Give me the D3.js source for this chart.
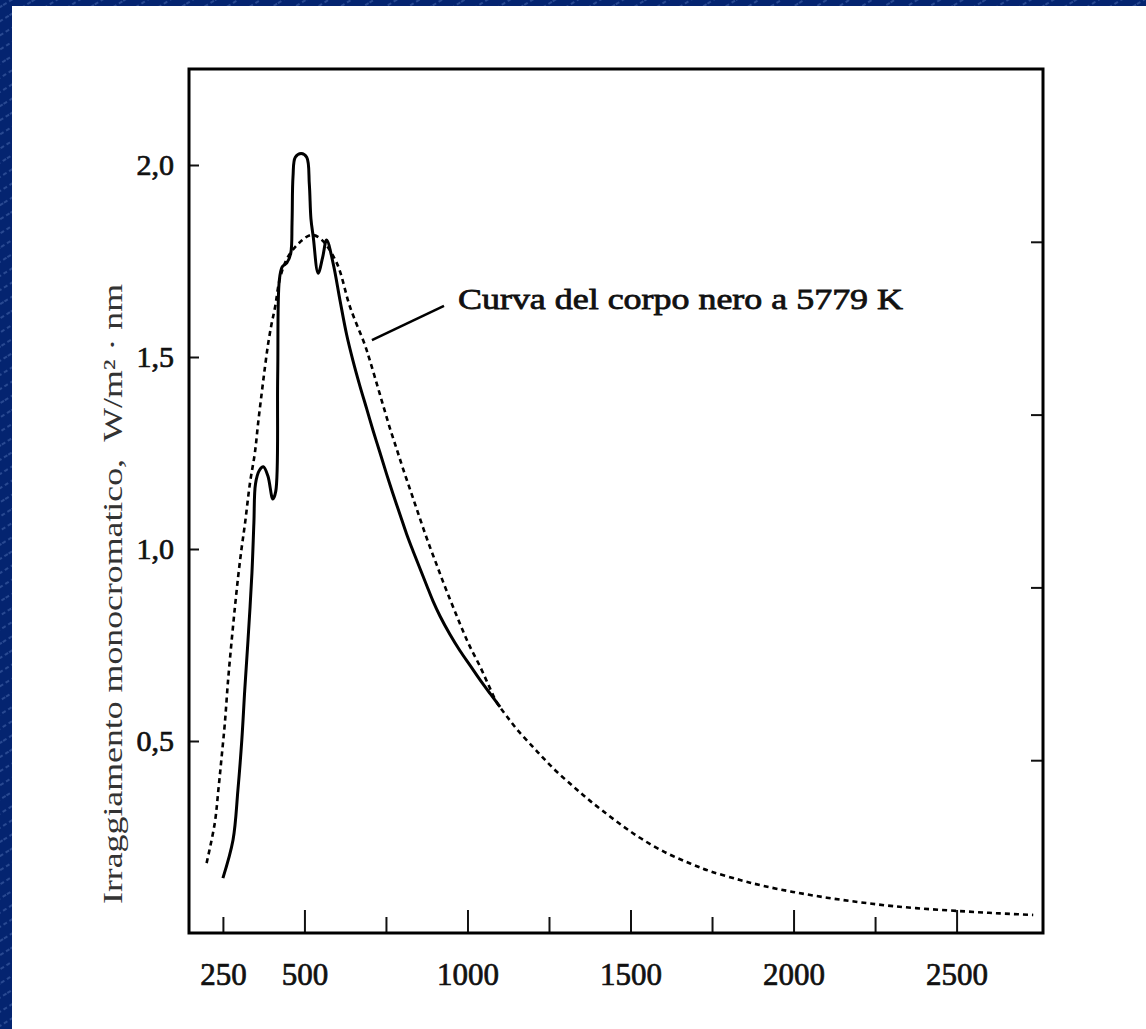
<!DOCTYPE html>
<html><head><meta charset="utf-8">
<script src="https://cdn.jsdelivr.net/npm/d3@7"></script>
<style>html,body{margin:0;padding:0;background:#fff;overflow:hidden} svg{display:block}</style>
</head><body>
<svg id="c" width="1146" height="1029"></svg>
<script>
// ---------- data ----------
const xMinorTicks = [250, 750, 1250, 1750, 2250];
const xMajorTicks = [500, 1000, 1500, 2000, 2500];
const xTickLabels = [250, 500, 1000, 1500, 2000, 2500];
const yTickValues = [0.5, 1.0, 1.5, 2.0];
const yRightTicks = [0.45, 0.9, 1.35, 1.8];

// measured solar spectrum (solid)
const solarWavelength = [250, 281, 296, 308, 317, 327, 339, 345, 350, 362, 374, 388, 403, 412, 418, 423, 432, 446, 458, 462, 465, 472, 490, 507, 515, 520, 527, 542, 556, 568, 588, 609, 629, 649, 670, 691, 710, 732, 752, 771, 793, 813, 833, 854, 875, 894, 916, 946, 977, 1008, 1038, 1069, 1100];
const solarIrradiance = [0.143, 0.242, 0.372, 0.503, 0.633, 0.763, 0.937, 1.068, 1.17, 1.205, 1.214, 1.19, 1.13, 1.15, 1.45, 1.70, 1.735, 1.745, 1.77, 1.85, 1.97, 2.02, 2.03, 2.02, 1.95, 1.86, 1.813, 1.718, 1.76, 1.805, 1.744, 1.648, 1.56, 1.49, 1.425, 1.365, 1.31, 1.25, 1.195, 1.145, 1.09, 1.04, 0.995, 0.95, 0.905, 0.865, 0.825, 0.778, 0.735, 0.697, 0.66, 0.624, 0.589];

// blackbody at 5779 K (dashed)
const blackbodyWavelength = [200, 225, 236, 246, 256, 266, 277, 287, 297, 307, 318, 333, 348, 358, 369, 379, 389, 399, 410, 425, 449, 486, 522, 553, 599, 640, 686, 701, 722, 741, 762, 783, 802, 824, 844, 864, 885, 906, 925, 946, 967, 986, 1008, 1038, 1065, 1090, 1120, 1155, 1197, 1232, 1274, 1324, 1366, 1412, 1477, 1538, 1611, 1683, 1744, 1836, 1906, 1998, 2102, 2204, 2305, 2419, 2531, 2633, 2735];
const blackbodyIrradiance = [0.182, 0.286, 0.372, 0.458, 0.547, 0.66, 0.763, 0.85, 0.93, 1.0, 1.068, 1.172, 1.25, 1.328, 1.406, 1.474, 1.536, 1.585, 1.63, 1.705, 1.76, 1.799, 1.818, 1.805, 1.745, 1.63, 1.53, 1.49, 1.43, 1.375, 1.315, 1.26, 1.21, 1.155, 1.105, 1.055, 1.005, 0.958, 0.915, 0.87, 0.826, 0.787, 0.745, 0.695, 0.645, 0.6, 0.565, 0.527, 0.488, 0.456, 0.42, 0.382, 0.351, 0.32, 0.278, 0.243, 0.208, 0.181, 0.161, 0.138, 0.123, 0.107, 0.092, 0.08, 0.07, 0.062, 0.056, 0.051, 0.047];

const annotationText = "Curva del corpo nero a 5779 K";
const annotationFrom = [707, 1.544];   // on the blackbody curve
const annotationTo = [928, 1.633];     // end of leader
const annotationTextAt = [971, 1.625];
const yAxisTitle = "Irraggiamento monocromatico,  W/m\u00B2 \u00B7 nm";

// ---------- drawing ----------
const svg = d3.select("#c");
const W = 1146, H = 1029;
const FONT = "'Liberation Serif', 'DejaVu Serif', serif";

const defs = svg.append("defs");
const pat = defs.append("pattern").attr("id", "hatch")
  .attr("patternUnits", "userSpaceOnUse")
  .attr("width", 26).attr("height", 12)
  .attr("patternTransform", "rotate(-32)");
pat.append("rect").attr("width", 26).attr("height", 12).attr("fill", "#042470");
pat.append("line").attr("x1", 0).attr("y1", 6).attr("x2", 26).attr("y2", 6)
  .attr("stroke", "#5f7fc2").attr("stroke-width", 1).attr("stroke-dasharray", "4,3").attr("opacity", 0.8);

svg.append("rect").attr("width", W).attr("height", H).attr("fill", "url(#hatch)");
svg.append("rect").attr("x", 12).attr("y", 6).attr("width", W - 12).attr("height", H - 6).attr("fill", "#ffffff");

const x = d3.scaleLinear().domain([146, 2765]).range([189, 1043]);
const y = d3.scaleLinear().domain([0, 2.25]).range([933, 69]);

const ink = "#111";

// x axis: minor ticks, major ticks, labels
const gx1 = svg.append("g").attr("transform", `translate(0,${y(0)})`)
  .call(d3.axisBottom(x).tickValues(xMinorTicks).tickSize(-16).tickFormat(""));
const gx2 = svg.append("g").attr("transform", `translate(0,${y(0)})`)
  .call(d3.axisBottom(x).tickValues(xMajorTicks).tickSize(-23).tickFormat(""));
const gx3 = svg.append("g").attr("transform", `translate(0,${y(0)})`)
  .call(d3.axisBottom(x).tickValues(xTickLabels).tickSize(0).tickPadding(30).tickFormat(d3.format("d")));
[gx1, gx2, gx3].forEach(g => {
  g.select(".domain").remove();
  g.selectAll("line").attr("stroke", ink).attr("stroke-width", 2);
});
gx3.selectAll("text").attr("font-family", FONT).attr("font-size", 31).attr("fill", ink)
  .attr("stroke", ink).attr("stroke-width", 0.7);

// y axis left
const gy = svg.append("g").attr("transform", `translate(${x.range()[0]},0)`)
  .call(d3.axisLeft(y).tickValues(yTickValues).tickSize(-10).tickPadding(15)
    .tickFormat(d => d3.format(".1f")(d).replace(".", ",")));
gy.select(".domain").remove();
gy.selectAll("line").attr("stroke", ink).attr("stroke-width", 2);
gy.selectAll("text").attr("font-family", FONT).attr("font-size", 30).attr("fill", ink)
  .attr("stroke", ink).attr("stroke-width", 0.7);

// y axis right (ticks only)
const gr = svg.append("g").attr("transform", `translate(${x.range()[1]},0)`)
  .call(d3.axisRight(y).tickValues(yRightTicks).tickSize(-12).tickFormat(""));
gr.select(".domain").remove();
gr.selectAll("line").attr("stroke", ink).attr("stroke-width", 2);

// frame
svg.append("rect")
  .attr("x", x.range()[0]).attr("y", y.range()[1])
  .attr("width", x.range()[1] - x.range()[0]).attr("height", y.range()[0] - y.range()[1])
  .attr("fill", "none").attr("stroke", "#000").attr("stroke-width", 3);

// curves
const line = d3.line().x(d => x(d[0])).y(d => y(d[1])).curve(d3.curveCatmullRom.alpha(0.5));
const bb = blackbodyWavelength.map((w, i) => [w, blackbodyIrradiance[i]]);
const sol = solarWavelength.map((w, i) => [w, solarIrradiance[i]]);

svg.append("path").attr("d", line(bb)).attr("fill", "none")
  .attr("stroke", "#000").attr("stroke-width", 2.6).attr("stroke-dasharray", "5,4");
svg.append("path").attr("d", line(sol)).attr("fill", "none")
  .attr("stroke", "#000").attr("stroke-width", 3).attr("stroke-linejoin", "round");

// annotation
svg.append("line")
  .attr("x1", x(annotationFrom[0])).attr("y1", y(annotationFrom[1]))
  .attr("x2", x(annotationTo[0])).attr("y2", y(annotationTo[1]))
  .attr("stroke", "#000").attr("stroke-width", 2.5);
svg.append("text")
  .attr("x", x(annotationTextAt[0])).attr("y", y(annotationTextAt[1]))
  .attr("font-family", FONT).attr("font-size", 30).attr("fill", ink)
  .attr("stroke", ink).attr("stroke-width", 0.8)
  .attr("textLength", 445).attr("lengthAdjust", "spacingAndGlyphs")
  .text(annotationText);

// y axis title
svg.append("text")
  .attr("transform", "translate(122,594) rotate(-90)")
  .attr("text-anchor", "middle")
  .attr("font-family", FONT).attr("font-size", 27).attr("fill", "#333")
  .attr("xml:space", "preserve").style("white-space", "pre")
  .attr("textLength", 620).attr("lengthAdjust", "spacingAndGlyphs")
  .text(yAxisTitle);
</script>
</body></html>
